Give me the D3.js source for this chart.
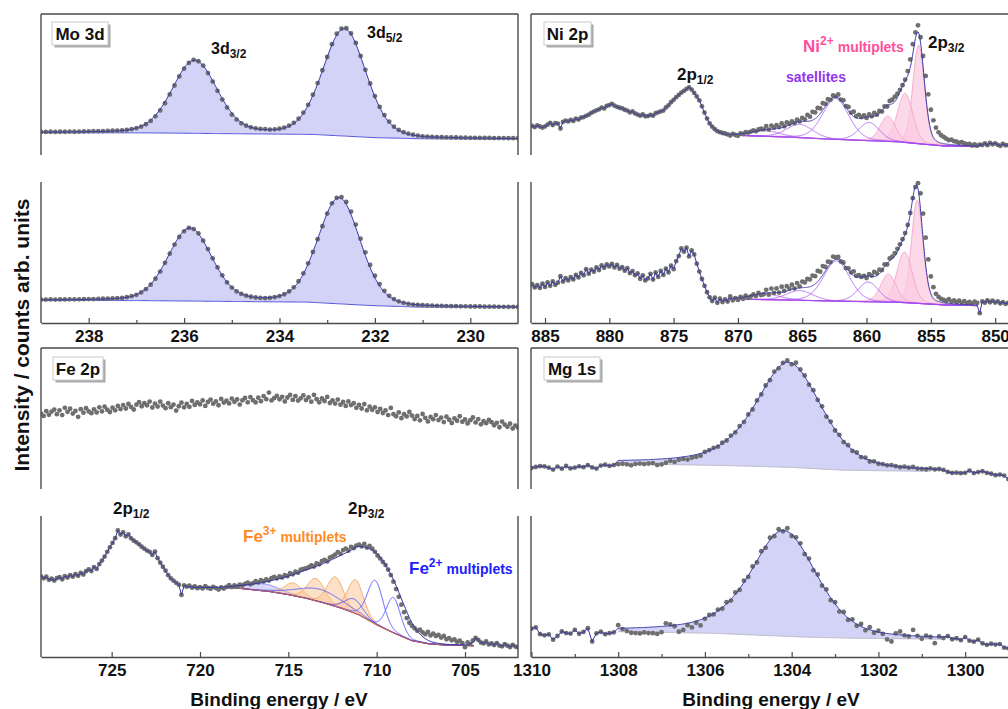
<!DOCTYPE html>
<html>
<head>
<meta charset="utf-8">
<script src="https://d3js.org/d3.v7.min.js"></script>
<title>XPS spectra</title>
<style>
  body { margin: 0; background: #fff; }
  text { font-family: 'Liberation Sans', Arial, sans-serif; font-weight: bold; }
</style>
</head>
<body>
<svg id="chart"></svg>
<script>
// ---------- data (intensity in % of panel height) ----------

// Mo 3d, upper spectrum, 239.0 -> 229.0 eV, step 0.1
const moTopY = [
  16.4, 16.4, 16.5, 16.4, 16.5, 16.5, 16.6, 16.5, 16.6, 16.7,
  16.8, 16.9, 16.9, 17.0, 17.1, 17.2, 17.3, 17.5, 17.8, 18.3,
  19.0, 20.1, 21.8, 24.2, 27.4, 31.6, 36.7, 42.9, 49.3, 55.7,
  61.2, 65.3, 67.5, 66.5, 63.4, 58.1, 52.1, 45.5, 39.3, 33.6,
  28.6, 25.1, 22.5, 20.8, 19.6, 18.9, 18.5, 18.4, 18.0, 18.2,
  18.6, 19.4, 20.8, 22.8, 25.7, 30.0, 35.6, 42.8, 51.0, 60.1,
  69.5, 78.6, 86.0, 89.6, 89.9, 86.2, 79.5, 70.2, 60.4, 50.7,
  41.8, 34.1, 28.3, 23.6, 20.1, 17.8, 16.2, 15.1, 14.4, 13.8,
  13.2, 13.0, 12.8, 12.7, 12.6, 12.5, 12.4, 12.4, 12.3, 12.3,
  12.2, 12.2, 12.1, 12.1, 12.1, 12.0, 12.0, 12.0, 11.9, 11.9,
  11.9
];
const moTopBgE = [239, 236.8, 235.0, 233.3, 232.0, 231.0, 229];
const moTopBgV = [15.8, 15.7, 15.1, 14.6, 12.3, 11.5, 11.3];
const moTopPeaks = [[232.64, 76, 1.07], [235.78, 51.5, 1.11]];

// Mo 3d, lower spectrum
const moBotY = [
  16.6, 16.6, 16.7, 16.6, 16.7, 16.7, 16.8, 16.8, 16.8, 16.9,
  17.0, 17.0, 17.1, 17.2, 17.3, 17.4, 17.6, 17.8, 18.3, 19.0,
  20.0, 21.7, 24.0, 27.2, 31.4, 36.5, 42.7, 49.2, 55.6, 61.0,
  65.0, 67.4, 66.6, 63.6, 58.4, 52.4, 45.8, 39.5, 33.8, 28.8,
  25.1, 22.4, 20.6, 19.4, 18.6, 18.1, 17.8, 17.6, 17.8, 18.3,
  19.1, 20.4, 22.4, 25.3, 29.6, 35.2, 42.3, 50.4, 59.4, 68.7,
  77.6, 84.9, 88.8, 89.3, 85.8, 79.0, 69.8, 59.8, 50.1, 41.2,
  33.5, 27.6, 22.8, 19.3, 17.0, 15.4, 14.3, 13.6, 13.1, 12.8,
  12.6, 12.4, 12.3, 12.2, 12.1, 12.0, 11.9, 11.9, 11.8, 11.8,
  11.7, 11.7, 11.7, 11.6, 11.6, 11.6, 11.5, 11.5, 11.5, 11.5,
  11.4
];
const moBotBgE = [239, 236.9, 235.1, 233.4, 232.1, 231.1, 229];
const moBotBgV = [16.0, 15.9, 15.3, 14.8, 12.4, 11.3, 11.1];
const moBotPeaks = [[232.75, 75, 1.05], [235.88, 51.5, 1.08]];

// Ni 2p, upper spectrum, 886.0 -> 849.0 eV, step 0.2
const niTopY = [
  20.6, 19.8, 21.0, 20.2, 19.5, 20.3, 21.5, 22.8, 21.2, 22.6,
  22.3, 18.8, 23.5, 24.4, 23.8, 24.9, 24.2, 25.8, 25.1, 26.5,
  26.9, 27.8, 28.6, 29.9, 30.8, 31.7, 32.4, 33.6, 33.0, 34.8,
  35.4, 36.3, 35.0, 34.2, 33.5, 33.0, 32.1, 31.5, 30.2, 30.9,
  29.5, 28.7, 27.9, 28.8, 27.5, 27.6, 28.4, 27.9, 29.6, 30.3,
  30.9, 31.5, 33.7, 35.2, 37.4, 39.1, 41.0, 42.6, 44.2, 45.5,
  46.8, 48.0, 46.4, 44.0, 41.5, 38.8, 34.5, 30.1, 25.8, 22.4,
  20.1, 18.3, 16.9, 16.2, 15.6, 15.3, 14.6, 13.8, 15.0, 14.2,
  13.6, 15.4, 14.9, 16.2, 15.8, 16.6, 17.4, 16.8, 18.1, 18.6,
  18.2, 20.5, 18.0, 20.9, 19.4, 21.1, 19.8, 22.5, 20.4, 23.2,
  22.0, 23.9, 22.6, 25.1, 23.8, 26.4, 25.3, 28.4, 27.2, 30.6,
  30.2, 33.4, 33.0, 36.7, 36.2, 39.6, 39.1, 42.2, 41.6, 42.9,
  39.3, 38.9, 34.6, 34.1, 30.0, 30.7, 27.6, 28.5, 26.9, 28.1,
  26.3, 28.8, 27.5, 29.9, 28.6, 31.2, 30.8, 34.5, 34.4, 38.3,
  39.2, 41.4, 43.5, 46.2, 49.5, 53.4, 59.5, 67.8, 78.6, 86.9,
  92.0, 83.5, 70.2, 56.1, 43.0, 32.1, 24.6, 19.4, 16.1, 14.0,
  12.8, 11.6, 10.5, 10.9, 9.8, 9.4, 8.6, 9.1, 8.2, 7.7,
  7.9, 6.8, 7.5, 6.6, 7.3, 7.1, 8.2, 7.0, 8.5, 7.6,
  8.3, 7.2, 6.5, 7.8, 6.9, 7.0
];
const niTopBgE = [871.0, 866.0, 862.6, 857.5, 856.3, 854.0, 851.4];
const niTopBgV = [14.2, 12.6, 11.1, 9.3, 8.2, 6.4, 5.9];
const niTopMultiplets = [[855.95, 70, 1.05], [857.0, 35, 1.4], [858.35, 18, 1.4]];
const niTopSatellites = [[859.8, 13, 1.9], [862.4, 29, 2.4], [865.2, 9.5, 2.4], [867.8, 4, 2.6]];

// Ni 2p, lower spectrum
const niBotY = [
  27.5, 25.2, 26.8, 24.9, 27.9, 25.6, 28.8, 26.4, 29.5, 27.1,
  28.6, 33.2, 29.4, 31.8, 30.2, 32.6, 30.9, 34.1, 32.3, 35.6,
  33.8, 38.2, 35.0, 37.9, 36.4, 39.5, 37.6, 40.8, 39.2, 41.5,
  40.1, 42.0, 39.4, 41.2, 38.5, 39.6, 37.1, 38.9, 35.4, 36.8,
  33.9, 35.2, 31.4, 33.8, 30.2, 31.6, 34.9, 30.8, 35.8, 32.7,
  36.9, 34.1, 38.5, 35.9, 40.6, 38.2, 43.9, 47.5, 52.9, 50.6,
  53.4, 47.2, 51.5, 48.6, 42.1, 36.5, 31.2, 26.4, 21.8, 18.2,
  15.6, 17.9, 14.3, 17.2, 14.9, 16.8, 15.2, 18.9, 16.1, 17.6,
  16.4, 18.5, 17.2, 19.4, 17.8, 18.9, 20.3, 19.1, 21.4, 19.8,
  20.4, 23.5, 20.1, 24.4, 21.3, 24.5, 21.6, 25.7, 22.8, 26.1,
  24.4, 27.2, 24.6, 28.3, 26.0, 29.4, 28.8, 31.2, 30.9, 33.6,
  33.2, 36.9, 36.4, 40.4, 39.8, 43.5, 43.2, 47.1, 46.6, 46.8,
  43.6, 42.9, 38.9, 38.8, 35.9, 36.6, 33.4, 34.0, 32.7, 33.4,
  31.9, 34.7, 33.6, 36.2, 35.2, 37.8, 37.6, 41.6, 41.5, 45.8,
  47.1, 49.5, 52.6, 55.8, 59.4, 63.8, 69.5, 78.1, 88.5, 96.4,
  99.2, 92.0, 77.6, 60.5, 45.1, 33.0, 25.4, 20.6, 18.5, 17.1,
  16.4, 15.6, 16.9, 15.2, 16.0, 14.8, 15.9, 14.3, 15.5, 14.1,
  14.9, 13.8, 15.1, 14.2, 7.0, 15.3, 14.4, 16.1, 14.7, 15.8,
  14.5, 15.4, 13.9, 14.8, 13.6, 14.2
];
const niBotBgE = [870.75, 866.0, 862.5, 857.5, 856.3, 854.0, 851.4];
const niBotBgV = [17.0, 16.2, 15.5, 14.6, 14.0, 12.8, 12.3];
const niBotMultiplets = [[856.06, 73, 1.05], [857.05, 36, 1.4], [858.3, 20, 1.4]];
const niBotSatellites = [[859.87, 14, 1.9], [862.33, 28.5, 2.4], [865.2, 7, 2.4], [867.8, 4, 2.6]];

// Fe 2p, upper spectrum, 729.0 -> 702.0 eV, step 0.15
const feTopY = [
  53.4, 51.8, 55.2, 52.6, 54.9, 56.3, 53.1, 55.8, 52.4, 57.6,
  54.7, 56.9, 53.5, 55.4, 51.2, 56.6, 54.1, 57.3, 55.0, 53.8,
  56.5, 54.3, 57.9, 55.1, 58.4, 56.2, 54.6, 57.7, 55.8, 58.9,
  56.7, 59.5, 57.1, 60.3, 58.2, 56.4, 59.8, 61.6, 58.7, 60.9,
  59.4, 62.0, 57.8, 60.6, 58.5, 61.9, 59.2, 57.3, 60.8, 58.0,
  59.9, 55.6, 58.7, 61.2, 57.9, 60.4, 58.3, 62.5, 59.6, 61.4,
  60.1, 62.8, 58.9, 61.7, 63.4, 60.5, 62.2, 59.4, 63.9, 61.3,
  62.6, 60.7, 64.1, 61.8, 63.5, 59.9, 62.9, 64.6, 61.5, 65.2,
  63.0, 61.4, 64.8, 62.3, 65.9, 63.7, 68.4, 62.8, 64.5, 66.1,
  63.6, 65.4, 62.1, 64.9, 66.7, 63.2, 65.8, 62.7, 64.3, 66.4,
  63.1, 65.0, 61.9, 66.8, 63.7, 61.5, 64.2, 62.4, 65.3, 61.0,
  62.9, 60.6, 63.4, 59.8, 61.7, 58.9, 62.1, 59.5, 60.8, 57.6,
  59.7, 57.1, 60.2, 55.8, 58.4, 56.2, 57.9, 54.6, 56.8, 53.9,
  55.7, 52.4, 57.5, 53.1, 51.6, 54.3, 50.2, 53.0, 51.5, 54.6,
  52.1, 49.6, 51.8, 48.7, 53.2, 50.4, 47.9, 51.1, 49.5, 52.4,
  48.9, 50.6, 47.5, 51.3, 49.2, 46.8, 50.1, 48.4, 51.6, 47.7,
  49.3, 46.5, 48.8, 50.7, 47.2, 49.6, 45.9, 48.1, 46.7, 49.0,
  47.4, 45.2, 46.9, 43.8, 47.8, 45.6, 44.1, 46.3, 42.9, 45.0,
  43.6
];

// Fe 2p, lower spectrum
const feBotY = [
  57.2, 55.8, 56.9, 54.7, 55.5, 54.2, 55.9, 56.6, 55.1, 57.3,
  56.4, 58.1, 57.0, 58.8, 57.6, 59.7, 58.5, 60.9, 62.1, 61.0,
  63.8, 62.5, 65.9, 68.4, 71.2, 74.6, 77.8, 80.9, 84.3, 89.7,
  86.8, 88.4, 85.6, 86.9, 84.2, 82.5, 81.3, 79.9, 78.2, 76.8,
  75.5, 74.6, 72.4, 74.8, 70.1, 66.9, 64.0, 61.2, 58.0, 55.7,
  54.1, 52.6, 51.3, 44.0, 50.8, 49.9, 50.6, 49.2, 50.1, 48.8,
  49.5, 48.6, 50.2, 49.0, 48.4, 49.7, 48.9, 47.8, 49.3, 48.5,
  49.8, 50.9, 49.6, 50.8, 49.9, 51.4, 50.7, 51.9, 52.8, 51.6,
  52.4, 53.8, 52.9, 54.5, 53.6, 55.1, 54.2, 55.9, 56.8, 55.7,
  57.1, 56.4, 58.0, 57.3, 59.4, 58.6, 60.5, 59.8, 61.9, 62.4,
  62.8, 63.7, 64.9, 64.2, 66.4, 65.7, 68.0, 68.9, 67.8, 70.5,
  71.3, 72.6, 74.4, 73.2, 75.8, 76.9, 75.4, 78.1, 77.2, 79.0,
  79.6, 78.4, 80.2, 77.6, 78.8, 76.9, 74.6, 72.0, 69.8, 67.4,
  65.2, 62.0, 58.1, 53.4, 48.2, 42.7, 37.1, 31.8, 27.6, 24.3,
  22.1, 20.4, 18.6, 19.4, 17.5, 16.2, 17.8, 15.3, 16.6, 14.9,
  15.7, 13.8, 14.9, 12.6, 13.4, 11.8, 12.5, 10.7, 11.6, 9.8,
  7.0, 10.4, 9.2, 11.8, 13.5, 12.1, 10.3, 9.6, 11.0, 8.9,
  9.7, 8.5, 9.9, 8.1, 7.6, 9.2, 8.0, 7.1, 8.6, 7.4,
  6.8
];
const feBotBgE = [720.7, 718, 716, 715, 714, 713, 712, 711, 710, 709, 708, 707, 706, 704.5];
const feBotBgV = [49.4, 49.0, 46.3, 44.2, 41.6, 38.3, 34.5, 29.8, 22.7, 16.8, 11.5, 9.2, 8.4, 8.0];
const feBotEnvE = [720.7, 720, 719, 718, 717, 716, 715, 714, 713, 712, 711.5, 711, 710.5, 710,
                   709.5, 709, 708.5, 708, 707.5, 707, 706.5, 706, 705, 704.5];
const feBotEnvV = [49.8, 49.4, 49.4, 50.4, 51.8, 54.1, 57.4, 61.7, 66.4, 72.3, 75.4, 78.5, 77.2, 73.5,
                   65.3, 53.5, 38.2, 24.1, 15.6, 11.3, 9.7, 9.0, 8.5, 10.9];
const feBotFe3 = [[714.7, 9, 1.2], [713.44, 16, 1.15], [712.34, 21, 1.1], [711.2, 24, 1.05]];
const feBotFe2 = [[710.08, 31, 1.05], [709.05, 25, 0.95], [711.3, 10, 1.2], [713.2, 9, 3.0]];
const feBotSat = [[716.4, 5, 2.2]];

// Mg 1s, upper spectrum, 1310.0 -> 1299.0 eV, step 0.1
const mgTopY = [
  14.9, 15.6, 16.2, 16.0, 15.1, 13.8, 15.9, 14.4, 16.3, 14.6,
  15.2, 16.1, 15.5, 16.9, 15.3, 14.5, 16.6, 17.2, 16.4, 17.0,
  17.6, 17.9, 17.5, 16.8, 17.8, 18.0, 17.7, 18.1, 18.3, 17.0,
  17.4, 18.6, 20.0, 19.2, 20.7, 21.3, 20.9, 22.2, 22.8, 23.6,
  26.3, 27.6, 29.1, 30.0, 32.8, 34.4, 37.9, 40.1, 44.6, 47.5,
  52.9, 56.4, 62.8, 67.1, 73.4, 77.2, 83.3, 85.6, 89.5, 91.2,
  88.4, 89.6, 84.9, 80.5, 74.0, 70.1, 63.2, 58.6, 51.4, 47.8,
  41.5, 38.4, 33.2, 31.1, 27.0, 25.9, 22.6, 22.3, 19.5, 19.6,
  17.9, 17.6, 16.8, 17.0, 16.2, 15.5, 15.9, 15.1, 15.6, 14.5,
  14.3, 14.0, 14.6, 13.9, 14.2, 13.5, 12.1, 11.4, 11.6, 11.2,
  11.5, 13.1, 11.3, 12.0, 12.6, 11.5, 10.8, 9.8, 10.2, 9.5,
  7.0
];
const mgTopBgE = [1308, 1305.5, 1304, 1302.8, 1300.8];
const mgTopBgV = [18.0, 16.6, 15.3, 13.3, 12.5];
// centre, height, fwhm (high-BE side), fwhm (low-BE side), lorentz share high, lorentz share low
const mgTopPeaks = [[1304.08, 74.5, 1.8, 1.8, 0.6, 0.35]];

// Mg 1s, lower spectrum
const mgBotY = [
  20.1, 21.0, 16.2, 15.4, 16.0, 12.3, 14.9, 18.1, 17.0, 16.6,
  19.2, 16.5, 17.8, 20.4, 11.0, 16.8, 17.9, 16.2, 16.9, 17.5,
  22.6, 19.8, 18.4, 17.2, 17.0, 16.7, 17.4, 17.0, 16.9, 16.4,
  17.6, 23.9, 23.1, 21.8, 17.9, 19.2, 22.6, 21.0, 24.3, 22.4,
  27.1, 29.8, 30.2, 33.6, 34.3, 38.9, 40.0, 45.8, 47.6, 54.1,
  56.8, 64.2, 67.1, 75.0, 77.4, 84.6, 85.7, 90.6, 89.1, 91.3,
  85.8, 84.9, 80.6, 72.9, 69.8, 61.5, 58.5, 50.6, 47.9, 40.3,
  38.9, 32.2, 31.9, 26.3, 26.7, 22.1, 23.4, 18.9, 21.1, 17.2,
  18.6, 16.4, 12.5, 11.0, 16.8, 18.1, 15.4, 14.6, 19.2, 15.0,
  12.9, 15.1, 14.2, 9.8, 14.6, 13.4, 14.8, 12.6, 13.3, 11.9,
  14.1, 11.6, 10.9, 12.3, 9.7, 8.6, 9.4, 8.8, 9.2, 6.6,
  6.2
];
const mgBotBgE = [1308, 1305.8, 1303.6, 1302.5, 1300.5];
const mgBotBgV = [18.0, 16.8, 14.0, 13.3, 12.6];
const mgBotPeaks = [[1304.19, 75, 1.8, 1.8, 0.6, 0.35]];

// axis ticks
const moTicks = [238, 236, 234, 232, 230];
const moMinor = [237, 235, 233, 231];
const niTicks = [885, 880, 875, 870, 865, 860, 855, 850];
const feTicks = [725, 720, 715, 710, 705];
const mgTicks = [1310, 1308, 1306, 1304, 1302, 1300];
const mgMinor = [1309, 1307, 1305, 1303, 1301, 1299];

// ---------- layout ----------
const frameCol = '#4a4a4a';
const svg = d3.select('svg#chart').attr('width', 1008).attr('height', 709);

const colL = [41, 518], colR = [531, 1012];
const rows = [[14, 155], [182, 323], [348, 489], [516, 657]];

const xMo = d3.scaleLinear().domain([239, 229]).range(colL);
const xFe = d3.scaleLinear().domain([729, 702]).range(colL);
const xNi = d3.scaleLinear().domain([886.09, 848.69]).range(colR);
const xMg = d3.scaleLinear().domain([1310.01, 1298.92]).range(colR);

const defs = svg.append('defs');
[colL, colR].forEach((c, i) => {
  defs.append('clipPath').attr('id', 'clip' + i)
    .append('rect').attr('x', c[0]).attr('y', 0).attr('width', c[1] - c[0]).attr('height', 709);
});

// pseudo-Voigt line shape of one fitted component
function pv(E, pk) {
  const [c, h, w1, w2 = w1, m1 = 0.2, m2 = m1] = pk;
  const hi = E >= c;
  const w = hi ? w1 : w2, m = hi ? m1 : m2;
  const t = (E - c) / w;
  return h * ((1 - m) * Math.exp(-4 * Math.LN2 * t * t) + m / (1 + 4 * t * t));
}

const lav = '#d3d3f8', navy = '#3636a6';

const panels = [
  { col: 0, row: 0, x: xMo, vals: moTopY, e0: 239, step: 0.1, fit: [229, 239],
    bgE: moTopBgE, bgV: moTopBgV, envFill: lav, bgStroke: '#4d4dd8',
    groups: [{ peaks: moTopPeaks }] },
  { col: 0, row: 1, x: xMo, vals: moBotY, e0: 239, step: 0.1, fit: [229, 239],
    bgE: moBotBgE, bgV: moBotBgV, envFill: lav, bgStroke: '#4d4dd8',
    groups: [{ peaks: moBotPeaks }] },
  { col: 1, row: 0, x: xNi, vals: niTopY, e0: 886, step: 0.2, fit: [851.4, 871.0],
    bgE: niTopBgE, bgV: niTopBgV, bgStroke: '#9a3ff0',
    groups: [{ peaks: niTopMultiplets, fill: '#fbc9e0', opacity: 0.7, stroke: '#f6a0c8' },
             { peaks: niTopSatellites, stroke: '#ae5cf6' }] },
  { col: 1, row: 1, x: xNi, vals: niBotY, e0: 886, step: 0.2, fit: [851.4, 870.75],
    bgE: niBotBgE, bgV: niBotBgV, bgStroke: '#9a3ff0',
    groups: [{ peaks: niBotMultiplets, fill: '#fbc9e0', opacity: 0.7, stroke: '#f6a0c8' },
             { peaks: niBotSatellites, stroke: '#ae5cf6' }] },
  { col: 0, row: 2, x: xFe, vals: feTopY, e0: 729, step: 0.15, noLine: true },
  { col: 0, row: 3, x: xFe, vals: feBotY, e0: 729, step: 0.15, fit: [704.5, 720.7],
    bgE: feBotBgE, bgV: feBotBgV, bgStroke: '#d85a2a', envE: feBotEnvE, envV: feBotEnvV,
    groups: [{ peaks: feBotSat, fill: '#cfd0f4', opacity: 0.8, stroke: '#7a7aff' },
             { peaks: feBotFe3, fill: '#f9c391', opacity: 0.5, stroke: '#f3a057' },
             { peaks: feBotFe2, stroke: '#5252ff' }] },
  { col: 1, row: 2, x: xMg, vals: mgTopY, e0: 1310, step: 0.1, fit: [1300.8, 1308.0],
    bgE: mgTopBgE, bgV: mgTopBgV, envFill: lav, bgStroke: '#b9b9c6',
    groups: [{ peaks: mgTopPeaks }] },
  { col: 1, row: 3, x: xMg, vals: mgBotY, e0: 1310, step: 0.1, fit: [1300.5, 1308.0],
    bgE: mgBotBgE, bgV: mgBotBgV, envFill: lav, bgStroke: '#b9b9c6',
    groups: [{ peaks: mgBotPeaks }] }
];

function drawPanel(p) {
  const [top, bot] = rows[p.row];
  const y = d3.scaleLinear().domain([0, 100]).range([bot, top]);
  const x = p.x;
  const g = svg.append('g').attr('clip-path', `url(#clip${p.col})`);
  const pts = p.vals.map((v, i) => [p.e0 - i * p.step, v]);
  const lineXY = d3.line().x(d => x(d[0])).y(d => y(d[1]));

  let modelPts = null, lo, hi;
  if (p.fit) {
    [lo, hi] = p.fit;
    const bg = d3.scaleLinear().domain(p.bgE).range(p.bgV).clamp(true);
    const grid = d3.range(hi, lo - 1e-9, -0.02);
    const all = p.groups.flatMap(gr => gr.peaks);
    const model = E => bg(E) + d3.sum(all, pk => pv(E, pk));

    if (p.envFill) {
      g.append('path').datum(grid)
        .attr('d', d3.area().x(E => x(E)).y0(E => y(bg(E))).y1(E => y(model(E))))
        .attr('fill', p.envFill);
    }
    p.groups.forEach(gr => gr.peaks.forEach(pk => {
      if (gr.fill) {
        g.append('path').datum(grid)
          .attr('d', d3.area().x(E => x(E)).y0(E => y(bg(E))).y1(E => y(bg(E) + pv(E, pk))))
          .attr('fill', gr.fill).attr('fill-opacity', gr.opacity);
      }
      if (gr.stroke) {
        g.append('path').datum(grid)
          .attr('d', d3.line().x(E => x(E)).y(E => y(bg(E) + pv(E, pk))))
          .attr('fill', 'none').attr('stroke', gr.stroke).attr('stroke-width', 0.9);
      }
    }));
    g.append('path').datum(grid)
      .attr('d', d3.line().x(E => x(E)).y(E => y(bg(E))))
      .attr('fill', 'none').attr('stroke', p.bgStroke).attr('stroke-width', 1);

    modelPts = p.envE ? p.envE.map((E, i) => [E, p.envV[i]]) : grid.map(E => [E, model(E)]);
  }

  // measured points
  g.selectAll(null).data(pts).join('circle')
    .attr('cx', d => x(d[0])).attr('cy', d => y(d[1])).attr('r', 2.4)
    .attr('fill', '#6f6f6f');

  if (p.noLine) return;
  const lineStyle = sel => sel.attr('fill', 'none').attr('stroke', navy).attr('stroke-width', 1);
  if (modelPts) {
    const left = pts.filter(d => d[0] > hi).concat([modelPts[0]]);
    const right = [modelPts[modelPts.length - 1]].concat(pts.filter(d => d[0] < lo));
    g.append('path').datum(left).attr('d', lineXY).call(lineStyle);
    g.append('path').datum(right).attr('d', lineXY).call(lineStyle);
    g.append('path').datum(modelPts)
      .attr('d', d3.line().x(d => x(d[0])).y(d => y(d[1]))
        .curve(p.envE ? d3.curveMonotoneX : d3.curveLinear))
      .call(lineStyle);
  } else {
    g.append('path').datum(pts).attr('d', lineXY).call(lineStyle);
  }
}
panels.forEach(drawPanel);

// ---------- frames and axes ----------
[colL, colR].forEach(c => {
  rows.forEach((r, i) => {
    [c[0], c[1]].forEach(xx => {
      svg.append('line').attr('x1', xx).attr('x2', xx).attr('y1', r[0]).attr('y2', r[1])
        .attr('stroke', frameCol).attr('stroke-width', 1.4);
    });
    if (i === 0 || i === 2) {
      svg.append('line').attr('x1', c[0]).attr('x2', c[1]).attr('y1', r[0]).attr('y2', r[0])
        .attr('stroke', frameCol).attr('stroke-width', 1.4);
    }
  });
});

function bottomAxis(x, yPos, majors, minors) {
  svg.append('g').attr('transform', `translate(0,${yPos})`)
    .call(d3.axisBottom(x).tickValues(majors).tickSize(-5).tickSizeOuter(0).tickPadding(7)
      .tickFormat(d3.format('d')))
    .call(g => {
      g.select('.domain').attr('stroke', frameCol).attr('stroke-width', 1.4);
      g.selectAll('.tick line').attr('stroke', frameCol).attr('stroke-width', 1.2);
      g.selectAll('.tick text').attr('font-size', 17).attr('fill', '#111')
        .attr('font-family', "'Liberation Sans', Arial, sans-serif").attr('font-weight', 'bold');
    });
  if (minors) {
    svg.append('g').attr('transform', `translate(0,${yPos})`)
      .call(d3.axisBottom(x).tickValues(minors).tickSize(-3).tickSizeOuter(0).tickFormat(''))
      .call(g => {
        g.select('.domain').remove();
        g.selectAll('.tick line').attr('stroke', frameCol).attr('stroke-width', 1.2);
      });
  }
}
bottomAxis(xMo, rows[1][1], moTicks, moMinor);
bottomAxis(xNi, rows[1][1], niTicks, null);
bottomAxis(xFe, rows[3][1], feTicks, null);
bottomAxis(xMg, rows[3][1], mgTicks, mgMinor);

// axis titles
svg.append('text').attr('transform', 'translate(29,335) rotate(-90)')
  .attr('text-anchor', 'middle').attr('font-size', 21).attr('fill', '#111')
  .text('Intensity / counts arb. units');
svg.append('text').attr('x', 279).attr('y', 706).attr('text-anchor', 'middle')
  .attr('font-size', 19).attr('fill', '#111').text('Binding energy / eV');
svg.append('text').attr('x', 771).attr('y', 706).attr('text-anchor', 'middle')
  .attr('font-size', 19).attr('fill', '#111').text('Binding energy / eV');

// panel name boxes
const boxes = [
  { x: 52, y: 22, w: 56, h: 23, t: 'Mo 3d' },
  { x: 544, y: 22, w: 47, h: 23, t: 'Ni 2p' },
  { x: 53, y: 357, w: 50, h: 23, t: 'Fe 2p' },
  { x: 544, y: 357, w: 56, h: 23, t: 'Mg 1s' }
];
boxes.forEach(b => {
  svg.append('rect').attr('x', b.x + 2.5).attr('y', b.y + 2.5).attr('width', b.w).attr('height', b.h)
    .attr('fill', '#a9a9a9');
  svg.append('rect').attr('x', b.x).attr('y', b.y).attr('width', b.w).attr('height', b.h)
    .attr('fill', '#fff').attr('stroke', '#c9c9c9').attr('stroke-width', 1);
  svg.append('text').attr('x', b.x + b.w / 2).attr('y', b.y + 17.5).attr('text-anchor', 'middle')
    .attr('font-size', 17).attr('fill', '#111').text(b.t);
});

// peak annotations: parts = [text, font size, dy, dx]
function note(x, y, color, parts) {
  const t = svg.append('text').attr('x', x).attr('y', y).attr('fill', color);
  parts.forEach(([s, fs, dy, dx]) => {
    t.append('tspan').attr('font-size', fs).attr('dy', dy || 0).attr('dx', dx || 0).text(s);
  });
}
note(211, 54, '#111', [['3d', 16], ['3/2', 12, 4]]);
note(367, 37.5, '#111', [['3d', 16], ['5/2', 12, 4]]);
note(677, 80, '#111', [['2p', 17], ['1/2', 12, 4]]);
note(928, 48, '#111', [['2p', 17], ['3/2', 12, 4]]);
note(786, 82, '#9234ef', [['satellites', 14]]);
note(803, 52, '#ff4f9b', [['Ni', 17], ['2+', 12, -7], ['multiplets', 14, 7, 4]]);
note(113, 514, '#111', [['2p', 17], ['1/2', 12, 4]]);
note(348, 514, '#111', [['2p', 17], ['3/2', 12, 4]]);
note(243, 541.5, '#ff8a1f', [['Fe', 17], ['3+', 12, -7], ['multiplets', 14, 7, 4]]);
note(409, 574, '#2020ff', [['Fe', 17], ['2+', 12, -7], ['multiplets', 14, 7, 4]]);
</script>
</body>
</html>
